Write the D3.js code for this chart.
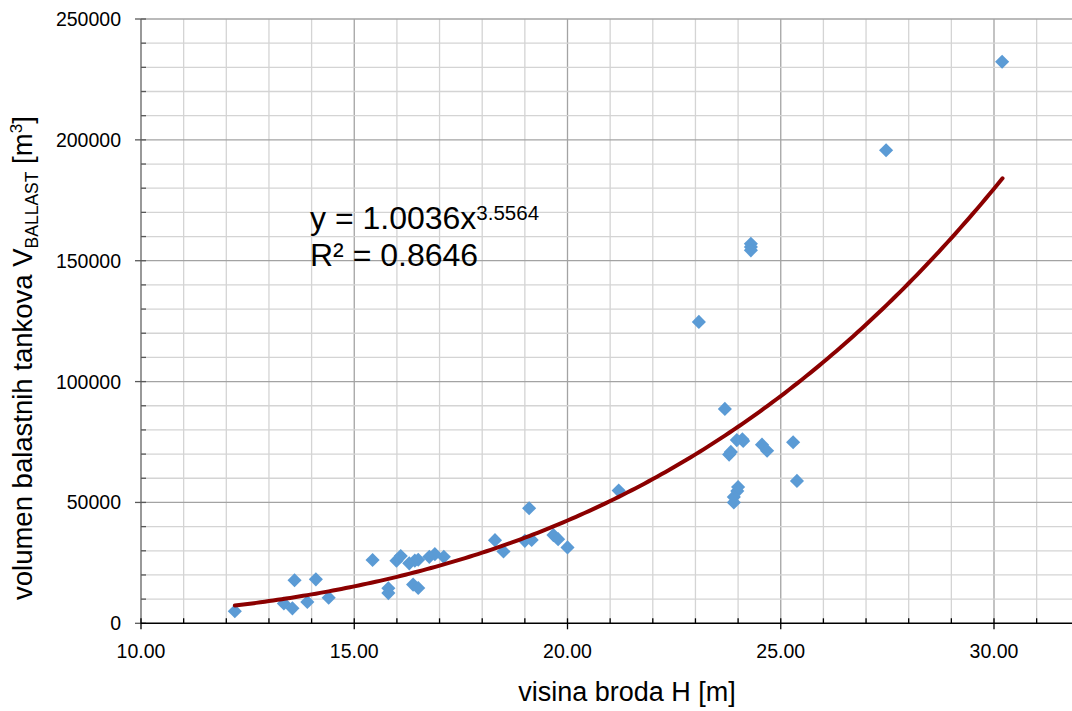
<!DOCTYPE html>
<html><head><meta charset="utf-8">
<script src="https://cdn.jsdelivr.net/npm/d3@7"></script>
<style>body{margin:0;background:#fff;} svg{display:block;font-family:"Liberation Sans",Arial,sans-serif;}</style>
</head><body>
<svg id="c" width="1072" height="711"></svg>
<script>
const heightH = [12.2,13.35,13.55,13.6,13.9,14.1,14.4,15.43,15.8,15.8,15.99,16.09,16.29,16.38,16.42,16.5,16.5,16.76,16.89,17.1,18.3,18.5,19.0,19.1,19.16,19.67,19.78,20.0,21.2,23.08,23.69,23.79,23.83,23.9,23.9,23.98,24.0,23.97,24.1,24.12,24.3,24.3,24.3,24.56,24.68,25.29,25.38,27.47,30.19];
const volume = [5000,8200,6200,17800,8800,18200,10600,26200,14500,12500,25900,27800,24800,16000,25900,14600,26300,27500,28600,27500,34400,29700,34100,47600,34500,36500,34800,31400,54900,124700,88700,69800,70900,50000,52300,54700,56400,75800,76100,75400,157000,155700,154300,73900,71400,74900,58900,195700,232300];
const xTicks = [10,15,20,25,30];
const yTicks = [0,50000,100000,150000,200000,250000];
const fitA = 1.0036, fitB = 3.5564, fitR2 = 0.8646;
const fitRange = [12.2, 30.2];

const svg = d3.select("#c");
const x = d3.scaleLinear().domain([10,32]).range([141, 141+22*42.65]);
const y = d3.scaleLinear().domain([0,250000]).range([623.3, 19]);

const g = svg.append("g");
// grid
g.selectAll(".vmin").data(d3.range(11,33)).enter().append("line")
  .attr("x1",d=>x(d)).attr("x2",d=>x(d)).attr("y1",y(0)).attr("y2",y(250000))
  .attr("stroke",d=>d%5===0?"#a3a3a3":"#d4d4d4").attr("stroke-width",1.3);
g.selectAll(".hmin").data(d3.range(10000,260000,10000)).enter().append("line")
  .attr("x1",x(10)).attr("x2",1072).attr("y1",d=>y(d)).attr("y2",d=>y(d))
  .attr("stroke",d=>d%50000===0?"#a3a3a3":"#d4d4d4").attr("stroke-width",1.3);

// y axis
g.append("line").attr("x1",x(10)).attr("x2",x(10)).attr("y1",y(0)).attr("y2",y(250000)).attr("stroke","#7f7f7f").attr("stroke-width",1.6);
g.selectAll(".yt").data(d3.range(0,260000,10000)).enter().append("line")
  .attr("x1",d=>d%50000===0?x(10)-6:x(10)).attr("x2",x(10)+5)
  .attr("y1",d=>y(d)).attr("y2",d=>y(d)).attr("stroke","#595959").attr("stroke-width",1.3);
// x axis
g.append("line").attr("x1",x(10)).attr("x2",1072).attr("y1",y(0)).attr("y2",y(0)).attr("stroke","#000").attr("stroke-width",1.5);
g.selectAll(".xt").data(d3.range(10,33)).enter().append("line")
  .attr("x1",d=>x(d)).attr("x2",d=>x(d))
  .attr("y1",y(0)-5).attr("y2",d=>d%5===0?y(0)+6:y(0))
  .attr("stroke","#000").attr("stroke-width",1.3);

// tick labels
g.selectAll(".yl").data(yTicks).enter().append("text")
  .attr("x",121).attr("y",d=>y(d)+7).attr("text-anchor","end")
  .attr("font-size",19.5).attr("fill","#000").text(d=>d);
g.selectAll(".xl").data(xTicks).enter().append("text")
  .attr("x",d=>x(d)).attr("y",658).attr("text-anchor","middle")
  .attr("font-size",19.5).attr("fill","#000").text(d=>d.toFixed(2));

// axis titles
g.append("text").attr("x",627).attr("y",701).attr("text-anchor","middle").attr("font-size",27).text("visina broda H [m]");
const yt = g.append("text").attr("transform","translate(32,600) rotate(-90)").attr("text-anchor","start").attr("font-size",27.5);
yt.append("tspan").text("volumen balastnih tankova V");
yt.append("tspan").attr("font-size",17.5).attr("dy",6).text("BALLAST");
yt.append("tspan").attr("dy",-6).text(" [m");
yt.append("tspan").attr("font-size",17).attr("dy",-10).text("3");
yt.append("tspan").attr("dy",10).text("]");

// points
const pts = heightH.map((h,i)=>({h, v:volume[i]}));
g.selectAll(".pt").data(pts).enter().append("path")
  .attr("d", d3.symbol(d3.symbolSquare, 100)())
  .attr("transform", d=>`translate(${x(d.h)},${y(d.v)}) rotate(45)`)
  .attr("fill","#5b9bd5");

// trendline
const fx = d3.range(fitRange[0], fitRange[1]+0.001, 0.1);
g.append("path").datum(fx)
  .attr("d", d3.line().x(d=>x(d)).y(d=>y(fitA*Math.pow(d,fitB))))
  .attr("fill","none").attr("stroke","#8b0000").attr("stroke-width",4).attr("stroke-linecap","round");

// equation
const eq = g.append("text").attr("x",310).attr("y",229).attr("font-size",32).attr("fill","#000");
eq.append("tspan").text("y = " + fitA.toFixed(4) + "x");
eq.append("tspan").attr("font-size",20.5).attr("dy",-9).text(fitB.toFixed(4));
g.append("text").attr("x",310).attr("y",266).attr("font-size",32).attr("fill","#000").text("R² = " + fitR2.toFixed(4));
</script>
</body></html>
